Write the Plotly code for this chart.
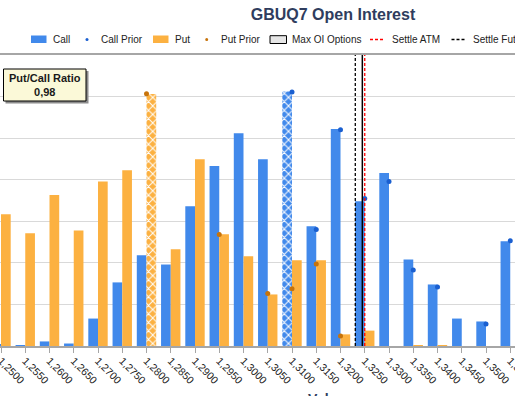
import plotly.graph_objects as go

# ---------------- data ----------------
strikes = [1.2500, 1.2550, 1.2600, 1.2650, 1.2700, 1.2750, 1.2800, 1.2850,
           1.2900, 1.2950, 1.3000, 1.3050, 1.3100, 1.3150, 1.3200, 1.3250,
           1.3300, 1.3350, 1.3400, 1.3450, 1.3500, 1.3550]
tick_labels = ["1,2500", "1,2550", "1,2600", "1,2650", "1,2700", "1,2750", "1,2800", "1,2850",
               "1,2900", "1,2950", "1,3000", "1,3050", "1,3100", "1,3150", "1,3200", "1,3250",
               "1,3300", "1,3350", "1,3400", "1,3450", "1,3500", "1,3550"]
call_oi = [30, 20, 110, 60, 660, 1530, 2180, 1960, 3360, 4330, 5120, 4490,
           6120, 2880, 5220, 3480, 4160, 2080, 1480, 660, 590, 2520]
put_oi = [3170, 2710, 3630, 2780, 3960, 4230, 6060, 2330, 4490, 2690, 2160, 1240,
          2060, 2060, 280, 370, 0, 20, 20, 0, 0, 0]
call_prior = [None, None, None, None, None, None, None, None, None, None, None, None,
              6110, 2800, 5200, 3550, 3960, 1830, 1420, None, 530, 2530]
put_prior = [None, None, None, None, None, None, 6070, None, None, 2680, None, 1260,
             1380, 1970, 240, None, None, None, None, None, None, None]
put_call_ratio = "0,98"
settle_atm = 1.3250
settle_fut = 1.32305
last_fut = 1.3245

# ---------------- style ----------------
W, H = 515, 396
ML, MR, MT, MB = 0, 0, 55, 50
PH = H - MT - MB
CALL_C = "#4189EB"
PUT_C = "#FCB141"
CALL_P = "#1A5FD0"
PUT_P = "#C7730B"
FONT = "Liberation Sans"

def px(x):
    return x / W

def py(y):
    return (H - MB - y) / PH

max_call = max(range(len(call_oi)), key=lambda i: call_oi[i])
max_put = max(range(len(put_oi)), key=lambda i: put_oi[i])
call_shapes = ["x" if i == max_call else "" for i in range(len(strikes))]
put_shapes = ["x" if i == max_put else "" for i in range(len(strikes))]

fig = go.Figure()
fig.add_trace(go.Bar(
    x=strikes, y=call_oi, name="Call",
    marker=dict(color=CALL_C, line=dict(width=0),
                pattern=dict(shape=call_shapes, bgcolor=CALL_C, fgcolor="white",
                             size=6, solidity=0.3)),
))
fig.add_trace(go.Bar(
    x=strikes, y=put_oi, name="Put",
    marker=dict(color=PUT_C, line=dict(width=0),
                pattern=dict(shape=put_shapes, bgcolor=PUT_C, fgcolor="white",
                             size=6, solidity=0.3)),
))
fig.add_trace(go.Scatter(x=strikes, y=call_prior, mode="markers", name="Call Prior",
                         marker=dict(color=CALL_P, size=5)))
fig.add_trace(go.Scatter(x=strikes, y=put_prior, mode="markers", name="Put Prior",
                         marker=dict(color=PUT_P, size=5)))

step = strikes[1] - strikes[0]
x0 = strikes[0] - (1 / 24.25) * step
x1 = x0 + (W / 24.25) * step

shapes = []
# vertical settle lines
shapes.append(dict(type="line", xref="x", yref="paper", x0=settle_fut, x1=settle_fut, y0=0, y1=1,
                   line=dict(color="black", width=1.3, dash="3px,2px")))
shapes.append(dict(type="line", xref="x", yref="paper", x0=last_fut, x1=last_fut, y0=0, y1=1,
                   line=dict(color="black", width=1.5)))
shapes.append(dict(type="line", xref="x", yref="paper", x0=settle_atm, x1=settle_atm, y0=0, y1=1,
                   line=dict(color="red", width=1.3, dash="3px,2px")))

# legend (manual)
ly = 39.5
shapes.append(dict(type="rect", xref="paper", yref="paper", x0=px(31), x1=px(46.5), y0=py(43), y1=py(35.5),
                   fillcolor=CALL_C, line=dict(width=0)))
shapes.append(dict(type="circle", xref="paper", yref="paper", x0=px(85.5), x1=px(88.5), y0=py(41), y1=py(38),
                   fillcolor=CALL_P, line=dict(width=0)))
shapes.append(dict(type="rect", xref="paper", yref="paper", x0=px(153), x1=px(168.5), y0=py(43), y1=py(35.5),
                   fillcolor=PUT_C, line=dict(width=0)))
shapes.append(dict(type="circle", xref="paper", yref="paper", x0=px(205.2), x1=px(208.2), y0=py(41), y1=py(38),
                   fillcolor=PUT_P, line=dict(width=0)))
shapes.append(dict(type="rect", xref="paper", yref="paper", x0=px(270), x1=px(286.5), y0=py(43.5), y1=py(35.7),
                   fillcolor="#E6E6E6", line=dict(width=1, color="black")))
shapes.append(dict(type="line", xref="paper", yref="paper", x0=px(370), x1=px(385), y0=py(ly), y1=py(ly),
                   line=dict(color="red", width=1.3, dash="3px,2px")))
shapes.append(dict(type="line", xref="paper", yref="paper", x0=px(451.5), x1=px(466.5), y0=py(ly), y1=py(ly),
                   line=dict(color="black", width=1.3, dash="3px,2px")))

# put/call ratio box with shadow
shapes.append(dict(type="rect", xref="paper", yref="paper", x0=px(5.5), x1=px(88.5), y0=py(103.5), y1=py(71),
                   fillcolor="#8C8C8C", line=dict(width=0), layer="above"))
shapes.append(dict(type="rect", xref="paper", yref="paper", x0=px(3.5), x1=px(86), y0=py(101), y1=py(69),
                   fillcolor="#FBF9D8", line=dict(width=1, color="black"), layer="above"))

annotations = []
legend_items = [("Call", 51), ("Call Prior", 99), ("Put", 173), ("Put Prior", 219),
                ("Max OI Options", 290), ("Settle ATM", 390), ("Settle Fut", 471)]
for txt, xx in legend_items:
    annotations.append(dict(text=txt, xref="paper", yref="paper", x=px(xx), y=py(ly),
                            xanchor="left", yanchor="middle", showarrow=False,
                            font=dict(family=FONT, size=10, color="#222222")))
annotations.append(dict(text="<b>Put/Call Ratio</b><br><b>" + put_call_ratio + "</b>",
                        xref="paper", yref="paper", x=px(44.8), y=py(85), xanchor="center",
                        yanchor="middle", showarrow=False, align="center",
                        font=dict(family=FONT, size=11, color="#1A1A1A")))
annotations.append(dict(text="<b>Volume</b>", xref="paper", yref="paper", x=px(333), y=py(389),
                        xanchor="center", yanchor="top", showarrow=False,
                        font=dict(family=FONT, size=14, color="#2F3D5E")))

fig.update_layout(
    width=W, height=H,
    margin=dict(l=ML, r=MR, t=MT, b=MB, pad=0),
    paper_bgcolor="white", plot_bgcolor="white",
    template="none",
    showlegend=False,
    barmode="group", bargap=0.2, bargroupgap=0,
    title=dict(text="<b>GBUQ7 Open Interest</b>", x=333 / W, xanchor="center",
               y=1 - 14 / H, yanchor="middle",
               font=dict(family=FONT, size=16, color="#2F3D5E")),
    xaxis=dict(range=[x0, x1], tickmode="array", tickvals=strikes, ticktext=tick_labels,
               tickangle=45, showline=True, linecolor="#A6A6A6", linewidth=1.5, mirror=True,
               ticks="outside", ticklen=5, tickcolor="#A6A6A6", showgrid=False, zeroline=False,
               automargin=False, ticklabeloverflow="allow", ticklabelshift=0, ticklabelstandoff=-2,
               tickfont=dict(family=FONT, size=10.5, color="#222222")),
    yaxis=dict(range=[0, 7000], dtick=1000, showgrid=True, gridcolor="#D9D9D9", gridwidth=1,
               showticklabels=False, ticks="", zeroline=False, showline=False, automargin=False),
    shapes=shapes, annotations=annotations,
)

fig.write_html("out.html", config={"displayModeBar": False},
               post_script="document.body.style.margin='0';document.body.style.overflow='hidden';")
